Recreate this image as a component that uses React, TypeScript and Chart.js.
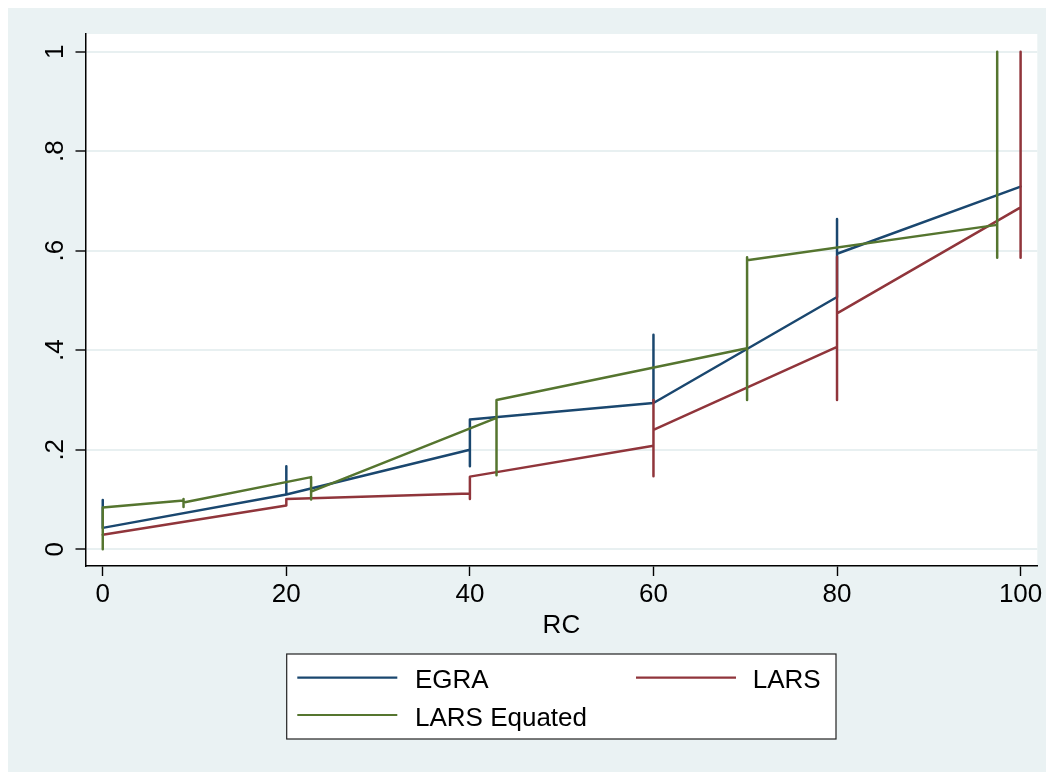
import { useEffect, useRef } from "react";
import { Chart, registerables } from "chart.js";

Chart.register(...registerables);

// RC value on the x axis, share on the y axis; repeated x values draw the vertical ranges
const egraX = [0, 0, 20, 20, 20, 40, 40, 40, 60, 60, 60, 80, 80, 80, 100];
const egraY = [0.099, 0.043, 0.11, 0.167, 0.11, 0.2, 0.167, 0.261, 0.294, 0.431, 0.294, 0.507, 0.664, 0.594, 0.729];

const larsX = [0, 20, 20, 40, 40, 40, 60, 60, 60, 60, 80, 80, 80, 80, 100, 100, 100];
const larsY = [0.029, 0.088, 0.101, 0.112, 0.101, 0.146, 0.208, 0.147, 0.3, 0.24, 0.407, 0.3, 0.588, 0.474, 0.687, 0.586, 1.0];

const equatedX = [0, 0, 8.8, 8.8, 8.8, 8.8, 22.7, 22.7, 22.7, 42.9, 42.9, 42.9, 70.2, 70.2, 70.2, 70.2, 97.45, 97.45, 97.45];
const equatedY = [0.0, 0.084, 0.098, 0.101, 0.085, 0.094, 0.145, 0.1, 0.116, 0.264, 0.149, 0.3, 0.404, 0.3, 0.587, 0.581, 0.652, 0.586, 1.0];

const seriesNames = ["EGRA", "LARS", "LARS Equated"];
const yTickValues = [0, 0.2, 0.4, 0.6, 0.8, 1];
const yTickLabels = ["0", ".2", ".4", ".6", ".8", "1"];
const xTickValues = [0, 20, 40, 60, 80, 100];
const xTitle = "RC";

const COLORS = ["#1a476f", "#90353b", "#55752f"];
const BG = "#eaf2f3";
const FONT = '"Liberation Sans", Arial, Helvetica, sans-serif';
const FONT_SIZE = 26;

const toPoints = (xs: number[], ys: number[]) => xs.map((x, i) => ({ x, y: ys[i] }));

const decorPlugin = {
  id: "decor",
  beforeDraw(chart: any) {
    const { ctx, width, height, chartArea } = chart;
    ctx.save();
    ctx.fillStyle = BG;
    ctx.fillRect(0, 0, width, height);
    ctx.fillStyle = "#ffffff";
    ctx.fillRect(chartArea.left, chartArea.top, chartArea.right - chartArea.left, chartArea.bottom - chartArea.top);
    ctx.restore();
  },
  afterDraw(chart: any) {
    const { ctx, chartArea } = chart;
    const yScale = chart.scales.y;
    ctx.save();
    ctx.fillStyle = "#000";
    ctx.font = `${FONT_SIZE}px ${FONT}`;
    // rotated y tick labels
    yTickValues.forEach((v, i) => {
      const py = yScale.getPixelForValue(v);
      ctx.save();
      ctx.translate(47.5, py);
      ctx.rotate(-Math.PI / 2);
      ctx.textAlign = "center";
      ctx.textBaseline = "middle";
      ctx.fillText(yTickLabels[i], 0, 0);
      ctx.restore();
    });
    // x axis title
    ctx.textAlign = "center";
    ctx.textBaseline = "alphabetic";
    ctx.fillText(xTitle, (chartArea.left + chartArea.right) / 2, 624.5);

    // legend box
    const bx = 278.7, by = 646, bw = 549.3, bh = 85;
    ctx.fillStyle = "#ffffff";
    ctx.fillRect(bx, by, bw, bh);
    ctx.strokeStyle = "#222";
    ctx.lineWidth = 1.2;
    ctx.strokeRect(bx, by, bw, bh);
    const items = [
      { x: 289.3, y: 669.7, tx: 407, ty: 679.5 },
      { x: 628, y: 669.7, tx: 744.7, ty: 679.5 },
      { x: 289.3, y: 707, tx: 407, ty: 717.5 },
    ];
    items.forEach((it, i) => {
      ctx.strokeStyle = COLORS[i];
      ctx.lineWidth = 2.2;
      ctx.beginPath();
      ctx.moveTo(it.x, it.y);
      ctx.lineTo(it.x + 100, it.y);
      ctx.stroke();
      ctx.fillStyle = "#000";
      ctx.textAlign = "left";
      ctx.fillText(seriesNames[i], it.tx, it.ty);
    });
    ctx.restore();
  },
};

export default function App() {
  const ref = useRef<HTMLCanvasElement | null>(null);

  useEffect(() => {
    document.body.style.overflow = "hidden";
    const canvas = ref.current;
    if (!canvas) return;
    Chart.defaults.font.family = FONT;
    const chart = new Chart(canvas, {
      type: "line",
      data: {
        datasets: [
          { label: seriesNames[0], data: toPoints(egraX, egraY), order: 3 },
          { label: seriesNames[1], data: toPoints(larsX, larsY), order: 2 },
          { label: seriesNames[2], data: toPoints(equatedX, equatedY), order: 1 },
        ].map((d, i) => ({
          ...d,
          borderColor: COLORS[i],
          backgroundColor: COLORS[i],
          borderWidth: 2.5,
          pointRadius: 0,
          tension: 0,
          fill: false,
          borderJoinStyle: "round" as const,
          borderCapStyle: "round" as const,
        })),
      },
      options: {
        animation: false,
        responsive: false,
        devicePixelRatio: 1,
        layout: { padding: { top: 26, right: 16.7, bottom: 0, left: 0 } },
        plugins: { legend: { display: false }, tooltip: { enabled: false } },
        scales: {
          x: {
            type: "linear",
            min: -1.88,
            max: 101.82,
            afterBuildTicks: (s: any) => {
              s.ticks = xTickValues.map((v) => ({ value: v }));
            },
            afterFit: (s: any) => {
              s.height = 206;
            },
            grid: { drawOnChartArea: false, tickLength: 10, tickColor: "#000", tickWidth: 1.4 },
            border: { display: true, color: "#000", width: 1.5 },
            ticks: { color: "#000", font: { size: FONT_SIZE }, padding: 3, maxRotation: 0, autoSkip: false },
          },
          y: {
            type: "linear",
            min: -0.0336,
            max: 1.0356,
            afterBuildTicks: (s: any) => {
              s.ticks = yTickValues.map((v) => ({ value: v }));
            },
            afterFit: (s: any) => {
              s.width = 77.5;
            },
            grid: { color: "#e8f0f1", lineWidth: 2, tickLength: 10, tickColor: "#000", tickWidth: 1.4 },
            border: { display: true, color: "#000", width: 1.5 },
            ticks: { display: false },
          },
        },
      },
      plugins: [decorPlugin],
    });
    return () => chart.destroy();
  }, []);

  return (
    <div style={{ width: 1046, height: 764 }}>
      <canvas ref={ref} width={1046} height={764} style={{ display: "block" }} />
    </div>
  );
}
